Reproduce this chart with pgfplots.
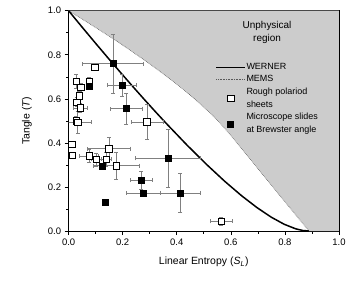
\documentclass[border=0pt]{standalone}
\usepackage{fontspec}
\setmainfont{Liberation Sans}
\usepackage{pgfplots}
\usepackage{pgfplotstable}
\pgfplotsset{compat=1.18}
\pgfplotsset{
 longline legend/.style={legend image code/.code={\draw[##1] (0cm,0cm) -- (1cm,0cm);}},
 longmark legend/.style={legend image code/.code={\draw[mark repeat=2,mark phase=2,##1] plot coordinates {(0cm,0cm) (0.5cm,0cm) (1cm,0cm)};}},
}

\pgfplotstableread{
x y ex ey
0.096 0.744 0 0
0.028 0.680 0.01 0.03
0.076 0.680 0.01 0.02
0.046 0.652 0.01 0.02
0.040 0.614 0.01 0.02
0.030 0.585 0.01 0.02
0.043 0.559 0.025 0.02
0.028 0.499 0.01 0.02
0.033 0.494 0.05 0.05
0.290 0.495 0.06 0.08
0.012 0.393 0 0
0.014 0.344 0 0
0.076 0.341 0.035 0.03
0.102 0.325 0.02 0.03
0.139 0.326 0.02 0.03
0.149 0.374 0.08 0.05
0.176 0.297 0.086 0.062
0.564 0.044 0.04 0.02
}\rough

\pgfplotstableread{
x y ex ey
0.164 0.760 0.112 0.133
0.075 0.658 0 0
0.198 0.662 0.054 0.05
0.213 0.556 0.06 0.07
0.124 0.296 0 0
0.269 0.230 0.04 0.04
0.275 0.173 0.063 0
0.135 0.132 0 0
0.367 0.330 0.12 0.13
0.413 0.173 0.074 0.09
}\slides

\begin{document}
\begin{tikzpicture}
\begin{axis}[
  scale only axis, width=270bp, height=220bp,
  xmin=0, xmax=1, ymin=0, ymax=1,
  xtick={0,0.2,0.4,0.6,0.8,1.0},
  ytick={0,0.2,0.4,0.6,0.8,1.0},
  minor tick num=1,
  tick align=outside,
  xtick pos=left, ytick pos=left,
  major tick length=4bp, minor tick length=2.5bp,
  axis line style={line width=0.8pt},
  every tick/.style={black, line width=0.6pt},
  /pgf/number format/assume math mode=true,
  xticklabel style={/pgf/number format/.cd, fixed, fixed zerofill, precision=1},
  yticklabel style={/pgf/number format/.cd, fixed, fixed zerofill, precision=1},
  tick label style={font=\fontsize{9.5}{11}\selectfont},
  label style={font=\fontsize{10.5}{12}\selectfont},
  xlabel={Linear Entropy (\textit{S}\textsubscript{\textit{L}})},
  ylabel={Tangle (\textit{T})},
  x label style={at={(axis description cs:0.5,-0.141)}, anchor=center},
  y label style={at={(axis description cs:-0.154,0.5)}, anchor=center},
  legend style={at={(axis cs:0.532,0.775)}, anchor=north west, draw=none, fill=none,
    font=\fontsize{9}{13}\selectfont, nodes={align=left, inner sep=1pt}, row sep=2.5pt},
  legend cell align=left,
]
% unphysical region
\addplot[fill=gray!40, draw=none, forget plot] coordinates {
 (0,1) (0.1267,0.9025) (0.24,0.81) (0.34,0.7225) (0.4267,0.64) (0.5,0.5625)
 (0.56,0.49) (0.5926,0.4444) (0.8889,0) (1,0) (1,1)} -- cycle;
% Werner
\addplot[black, line width=1.5pt, longline legend] coordinates {
 (0,1) (0.0494,0.9264) (0.0975,0.8556) (0.1444,0.7877) (0.19,0.7225)
 (0.2344,0.6602) (0.2775,0.6006) (0.3194,0.5439) (0.36,0.49) (0.4375,0.3906)
 (0.51,0.3025) (0.5775,0.2256) (0.64,0.16) (0.6975,0.1056) (0.75,0.0625)
 (0.7975,0.0306) (0.84,0.01) (0.8656,0.0025) (0.8889,0)};
\addlegendentry{WERNER}
% MEMS
\addplot[gray!70!black, densely dotted, line width=0.6pt, longline legend] coordinates {
 (0,1) (0.0652,0.9506) (0.1267,0.9025) (0.1867,0.8556) (0.24,0.81) (0.2925,0.7656) (0.34,0.7225)
 (0.3852,0.6806) (0.4267,0.64) (0.4652,0.6006) (0.5,0.5625) (0.5319,0.5256)
 (0.56,0.49) (0.5926,0.4444) (0.8889,0)};
\addlegendentry{MEMS}
% Rough polaroid sheets
\addplot[only marks, mark=square*, mark size=3.3pt,
  mark options={fill=white, draw=black, line width=0.6pt}, longmark legend,
  error bars/.cd, x dir=both, x explicit, y dir=both, y explicit,
  error bar style={gray, line width=0.5pt},
  error mark options={gray, rotate=90, mark size=2pt, line width=0.5pt}]
  table[x=x, y=y, x error=ex, y error=ey] {\rough};
\addlegendentry{Rough polariod\\sheets}
% Microscope slides
\addplot[only marks, mark=square*, mark size=3pt,
  mark options={fill=black, draw=black}, longmark legend,
  error bars/.cd, x dir=both, x explicit, y dir=both, y explicit,
  error bar style={gray, line width=0.5pt},
  error mark options={gray, rotate=90, mark size=2pt, line width=0.5pt}]
  table[x=x, y=y, x error=ex, y error=ey] {\slides};
\addlegendentry{Microscope slides\\at Brewster angle}
\node[align=center, font=\fontsize{10}{13}\selectfont] at (axis cs:0.734,0.90) {Unphysical\\region};
\end{axis}
\path ([shift={(-68.5bp,-55.3bp)}]current axis.south west) rectangle ([shift={(15bp,10.7bp)}]current axis.north east);
\end{tikzpicture}
\end{document}
